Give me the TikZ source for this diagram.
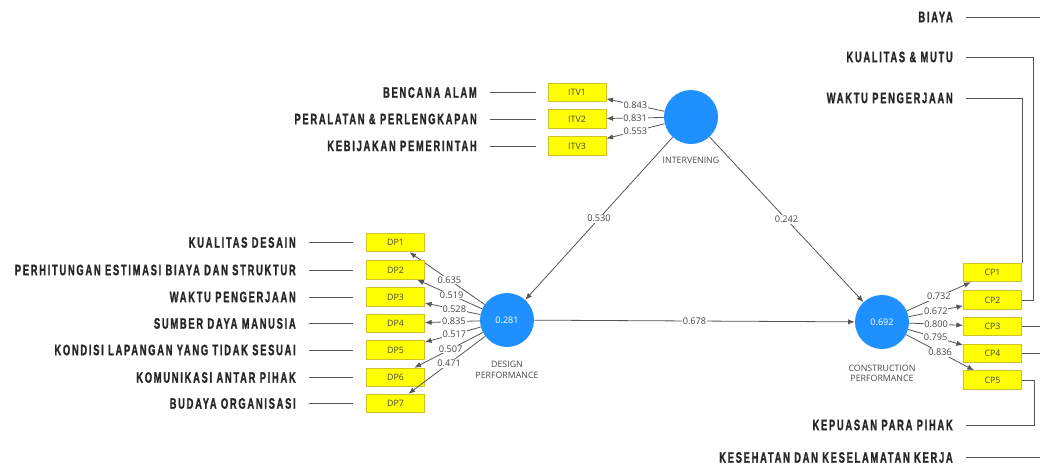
\documentclass[tikz,border=0pt]{standalone}
\usepackage{fontspec}
\setmainfont{Open Sans}
\newfontfamily\capfont[FakeStretch=0.62,LetterSpace=11.5,BoldFeatures={FakeBold=1.2}]{Liberation Sans}
\usetikzlibrary{arrows.meta}
\definecolor{plsblue}{RGB}{30,144,255}
\definecolor{plsyellow}{RGB}{255,255,0}
\definecolor{boxedge}{RGB}{205,195,40}
\definecolor{linegray}{RGB}{85,85,85}
\definecolor{txtgray}{RGB}{70,70,70}

\begin{document}
\begin{tikzpicture}[x=.75pt,y=-.75pt,
  latent/.style={circle,fill=plsblue,minimum size=40.5pt,inner sep=0pt,text=white,font=\fontsize{6.8}{7}\selectfont},
  indbox/.style={draw=boxedge,line width=.6pt,fill=plsyellow,minimum width=43.5pt,minimum height=14pt,inner sep=0pt,text=txtgray,font=\fontsize{6.6}{7}\selectfont},
  caption/.style={align=center,text=txtgray,font=\fontsize{6.6}{8}\selectfont},
  coef/.style={fill=white,inner sep=.6pt,text=txtgray,font=\fontsize{6.9}{7}\selectfont},
  item/.style={anchor=east,inner sep=0pt,text=black!85,font=\capfont\bfseries\fontsize{11.3}{12}\selectfont},
  link/.style={draw=linegray,line width=.6pt},
  load/.style={link,-{Latex[length=5pt,width=4pt]}},
  tick/.style={link,shorten <=10pt,shorten >=10pt}]
\useasboundingbox (0,0) rectangle (1040,465);
\coordinate (edge) at (1040,0);
% Variabel laten
\node[latent] (itv) at (691,117) {};
\node[caption] (itvcap) at (691,160) {INTERVENING};
\node[latent] (dp) at (507,320) {0.281};
\node[caption] (dpcap) at (507,370) {DESIGN\\PERFORMANCE};
\node[latent] (cp) at (882,322) {0.692};
\node[caption] (cpcap) at (882,373.5) {CONSTRUCTION\\PERFORMANCE};
% Indikator intervening
\node[item] (itvl1) at (477,92.5) {BENCANA ALAM};
\node[item] (itvl2) at (477,119) {PERALATAN \& PERLENGKAPAN};
\node[item] (itvl3) at (477,146) {KEBIJAKAN PEMERINTAH};
\foreach \i/\y/\v in {1/92.5/0.843,2/119/0.831,3/146/0.553}{
  \node[indbox] (itv\i) at (577,\y) {ITV\i};
  \draw[tick,shorten >=8.5pt] (itvl\i.east) -- (itv\i.west);
  \draw[load] (itv) -- (itv\i) node[coef,midway] {\v};
}
% Indikator design performance
\node[item] (dpl1) at (296,242.5) {KUALITAS DESAIN};
\node[item] (dpl2) at (296,270) {PERHITUNGAN ESTIMASI BIAYA DAN STRUKTUR};
\node[item] (dpl3) at (296,297) {WAKTU PENGERJAAN};
\node[item] (dpl4) at (296,323.5) {SUMBER DAYA MANUSIA};
\node[item] (dpl5) at (296,350) {KONDISI LAPANGAN YANG TIDAK SESUAI};
\node[item] (dpl6) at (296,377.5) {KOMUNIKASI ANTAR PIHAK};
\node[item] (dpl7) at (296,403.5) {BUDAYA ORGANISASI};
\foreach \i/\y/\v in {1/242.5/0.635,2/270/0.519,3/297/0.528,4/323.5/0.835,5/350/0.517,6/377.5/0.507,7/403.5/0.471}{
  \node[indbox] (dp\i) at (395.5,\y) {DP\i};
  \draw[tick] (dpl\i.east) -- (dp\i.west);
  \draw[load] (dp) -- (dp\i) node[coef,pos=.47] {\v};
}
% Indikator construction performance
\foreach \i/\y/\v in {1/272.5/0.732,2/300/0.672,3/326.5/0.800,4/353.5/0.795,5/380/0.836}{
  \node[indbox] (cp\i) at (992.5,\y) {CP\i};
  \draw[load] (cp) -- (cp\i) node[coef,midway] {\v};
}
\node[item] (biaya) at (953,17) {BIAYA};
\node[item] (kualitas) at (953,57) {KUALITAS \& MUTU};
\node[item] (waktucp) at (953,98) {WAKTU PENGERJAAN};
\node[item] (kepuasan) at (953,425) {KEPUASAN PARA PIHAK};
\node[item] (kkk) at (953,457.5) {KESEHATAN DAN KESELAMATAN KERJA};
\draw[link,shorten <=10pt] (biaya.east) -- (biaya.east -| edge);
\draw[link,shorten >=10pt] (cp1.north east) |- (waktucp.east);
\draw[link,shorten >=10pt] (cp2.east) -- ++(11,0) |- (kualitas.east);
\draw[link] (cp3.east) -- (cp3.east -| edge);
\draw[link] (cp4.east) -- (cp4.east -| edge);
\draw[link,shorten >=10pt] (cp5.east) -- ++(12,0) |- (kepuasan.east);
\draw[link,shorten <=10pt] (kkk.east) -- (kkk.east -| edge);
% Jalur struktural
\draw[load] (itv) -- (dp) node[coef,midway] {0.530};
\draw[load] (itv) -- (cp) node[coef,midway] {0.242};
\draw[load] (dp) -- (cp) node[coef,midway] {0.678};
\end{tikzpicture}
\end{document}
